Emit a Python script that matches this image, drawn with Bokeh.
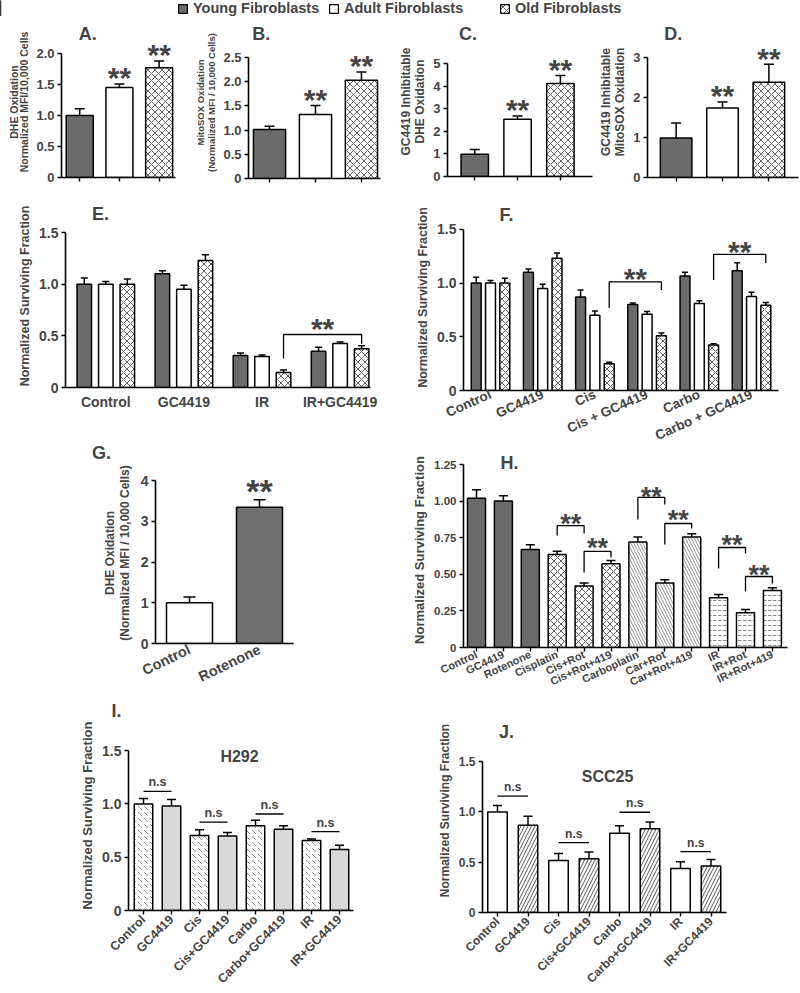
from bokeh.plotting import figure
from bokeh.models import (Range1d, FixedTicker, Label, Whisker, ColumnDataSource,
                          TeeHead, Legend, LegendItem, Spacer)
from bokeh.layouts import column, row
from bokeh.embed import file_html
from bokeh.resources import INLINE

FONT = "Liberation Sans"

# ---------------- data ----------------
legend_labels = ["Young Fibroblasts", "Adult Fibroblasts", "Old Fibroblasts"]
fib_keys = ["young", "adult", "old"]

a_vals = [1.00, 1.45, 1.77]
a_errs = [0.11, 0.06, 0.11]
b_vals = [1.01, 1.32, 2.03]
b_errs = [0.07, 0.19, 0.17]
c_vals = [0.98, 2.53, 4.11]
c_errs = [0.21, 0.15, 0.36]
d_vals = [0.99, 1.74, 2.38]
d_errs = [0.37, 0.15, 0.45]
abcd_sig = ["", "**", "**"]

e_cats = ["Control", "GC4419", "IR", "IR+GC4419"]
e_young = [1.00, 1.10, 0.31, 0.35]
e_young_err = [0.06, 0.03, 0.025, 0.04]
e_adult = [1.00, 0.95, 0.30, 0.425]
e_adult_err = [0.025, 0.04, 0.015, 0.015]
e_old = [1.00, 1.23, 0.145, 0.375]
e_old_err = [0.05, 0.055, 0.025, 0.03]

f_cats = ["Control", "GC4419", "Cis", "Cis + GC4419", "Carbo", "Carbo + GC4419"]
f_young = [1.00, 1.10, 0.87, 0.80, 1.065, 1.115]
f_young_err = [0.055, 0.03, 0.065, 0.015, 0.035, 0.075]
f_adult = [1.00, 0.95, 0.70, 0.71, 0.81, 0.875]
f_adult_err = [0.025, 0.04, 0.04, 0.025, 0.025, 0.04]
f_old = [1.00, 1.23, 0.25, 0.51, 0.423, 0.793]
f_old_err = [0.045, 0.05, 0.012, 0.025, 0.012, 0.027]

g_cats = ["Control", "Rotenone"]
g_vals = [1.00, 3.345]
g_errs = [0.14, 0.185]
g_sig = ["", "**"]

h_cats = ["Control", "GC4419", "Rotenone", "Cisplatin", "Cis+Rot", "Cis+Rot+419",
          "Carboplatin", "Car+Rot", "Car+Rot+419", "IR", "IR+Rot", "IR+Rot+419"]
h_vals = [1.02, 1.00, 0.67, 0.635, 0.42, 0.572, 0.72, 0.44, 0.754, 0.34, 0.237, 0.39]
h_errs = [0.057, 0.036, 0.031, 0.023, 0.021, 0.022, 0.034, 0.022, 0.023, 0.022, 0.023, 0.018]
h_kind = ["young", "young", "young", "cis", "cis", "cis",
          "carbo", "carbo", "carbo", "ir", "ir", "ir"]

ij_cats = ["Control", "GC4419", "Cis", "Cis+GC4419", "Carbo", "Carbo+GC4419", "IR", "IR+GC4419"]
i_vals = [1.00, 0.98, 0.705, 0.70, 0.795, 0.762, 0.656, 0.572]
i_errs = [0.052, 0.062, 0.052, 0.032, 0.052, 0.034, 0.016, 0.04]
i_kind = ["i_dot", "i_gray"] * 4
j_vals = [1.00, 0.868, 0.518, 0.534, 0.788, 0.833, 0.437, 0.462]
j_errs = [0.064, 0.09, 0.07, 0.067, 0.074, 0.067, 0.068, 0.066]
j_kind = ["adult", "j_hatch"] * 4

# significance brackets: (left bar, right bar, top, left end, right end, star centre)
e_brackets = [((2, 2), (3, 2), 0.513, 0.28, 0.423, 0.63)]
f_brackets = [((2, 2), (3, 2), 1.012, 0.769, 0.935, 1.10),
              ((4, 2), (5, 2), 1.268, 1.028, 1.188, 1.35)]
h_brackets = [(3, 4, 0.833, 0.765, 0.779, 0.88),
              (4, 5, 0.656, 0.512, 0.615, 0.717),
              (6, 7, 1.025, 0.874, 0.977, 1.07),
              (7, 8, 0.847, 0.704, 0.813, 0.908),
              (9, 10, 0.683, 0.54, 0.642, 0.738),
              (10, 11, 0.485, 0.383, 0.437, 0.533)]
i_ns = [(0, 1, 1.119), (2, 3, 0.829), (4, 5, 0.906), (6, 7, 0.741)]
j_ns = [(0, 1, 1.158), (2, 3, 0.695), (4, 5, 0.997), (6, 7, 0.605)]

# tick values / labels
t_a = [0, 0.5, 1.0, 1.5, 2.0]; tl_a = ["0", "0.5", "1.0", "1.5", "2.0"]
t_b = [0, 0.5, 1.0, 1.5, 2.0, 2.5]; tl_b = ["0", "0.5", "1.0", "1.5", "2.0", "2.5"]
t_c = [0, 1, 2, 3, 4, 5]; tl_c = ["0", "1", "2", "3", "4", "5"]
t_d = [0, 1, 2, 3]; tl_d = ["0", "1", "2", "3"]
t_s = [0, 0.5, 1.0, 1.5]; tl_s = ["0", "0.5", "1.0", "1.5"]
t_g = [0, 1, 2, 3, 4]; tl_g = ["0", "1", "2", "3", "4"]
t_h = [0, 0.25, 0.5, 0.75, 1.0, 1.25]; tl_h = ["0", "0.25", "0.50", "0.75", "1.00", "1.25"]

# ---------------- styles ----------------
STY = {
    "young": dict(fill_color="#6b6b6b"),
    "adult": dict(fill_color="white"),
    "old": dict(fill_color="white", hatch_pattern="diagonal_cross", hatch_color="#3c3c3c",
                hatch_scale=7, hatch_weight=0.8),
    "cis": dict(fill_color="white", hatch_pattern="diagonal_cross", hatch_color="#3c3c3c",
                hatch_scale=7, hatch_weight=0.8),
    "carbo": dict(fill_color="white", hatch_pattern="left_diagonal_line", hatch_color="#9a9a9a",
                  hatch_scale=6, hatch_weight=1),
    "ir": dict(fill_color="white", hatch_pattern="horizontal_dash", hatch_color="#8a8a8a",
               hatch_scale=5, hatch_weight=1),
    "i_dot": dict(fill_color="white", hatch_pattern="left_diagonal_dash", hatch_color="#8c8c8c",
                  hatch_scale=6, hatch_weight=1),
    "i_gray": dict(fill_color="#d9d9d9"),
    "j_hatch": dict(fill_color="white", hatch_pattern="right_diagonal_line", hatch_color="#444444",
                    hatch_scale=7, hatch_weight=0.9),
}


class Panel:
    """A figure whose frame is placed at given pixel positions (local to its slot)."""
    def __init__(self, W, H, fl, fr, ft, fb, x0, dx, tick_px, tick_val, s=0, wrap="row"):
        self.ppu = (fb - tick_px) / tick_val
        self.x0, self.dx, self.fb = x0, dx, fb
        p = figure(width=W - s, height=H, output_backend="svg", toolbar_location=None,
                   x_range=Range1d((fl - x0) / dx, (fr - x0) / dx),
                   y_range=Range1d(0, (fb - ft) / self.ppu),
                   min_border_left=fl - s, min_border_right=W - fr,
                   min_border_top=ft, min_border_bottom=H - fb,
                   title_location=None)
        p.outline_line_color = None
        p.grid.visible = False
        self.p = p
        kids = ([Spacer(width=s, height=H)] if s else []) + [p]
        self.box = row(*kids) if wrap == "row" else column(*kids)

    def cv(self, lx, ly):
        return ((lx - self.x0) / self.dx, (self.fb - ly) / self.ppu)


def tag(W, H, text, cx, cy, fs=18):
    """A small strip holding a panel letter that sits outside the neighbouring plot frame."""
    t = figure(width=W, height=H, x_range=Range1d(0, W), y_range=Range1d(0, H),
               output_backend="svg", toolbar_location=None, x_axis_type=None, y_axis_type=None,
               min_border=0, title_location=None)
    t.grid.visible = False
    t.outline_line_color = None
    t.add_layout(Label(x=cx, y=H - cy, text=text, text_font=FONT, text_font_style="bold",
                       text_font_size=f"{fs}px", text_align="center", text_baseline="middle"))
    return row(t)


def y_axis(p, ticks, labels, title, tick_fs, title_fs, lh=1.0, standoff=4):
    ax = p.yaxis[0]
    ax.ticker = FixedTicker(ticks=ticks)
    ax.major_label_overrides = dict(zip(ticks, labels))
    ax.bounds = (ticks[0], ticks[-1])
    ax.axis_line_width = 1.6
    ax.major_tick_line_width = 1.6
    ax.major_tick_in = 0
    ax.major_tick_out = 4
    ax.minor_tick_line_color = None
    ax.major_label_standoff = 3
    ax.major_label_text_font = FONT
    ax.major_label_text_font_style = "bold"
    ax.major_label_text_font_size = f"{tick_fs}px"
    ax.axis_label = title
    ax.axis_label_text_font = FONT
    ax.axis_label_text_font_style = "bold"
    ax.axis_label_text_font_size = f"{title_fs}px"
    ax.axis_label_text_line_height = lh
    ax.axis_label_standoff = standoff


def x_axis(p, ticks, labels, fs, angle=None, tick_out=0, standoff=4):
    ax = p.xaxis[0]
    ax.ticker = FixedTicker(ticks=ticks)
    ax.major_label_overrides = dict(zip(ticks, labels))
    ax.axis_line_width = 1.6
    ax.major_tick_line_width = 1.4
    ax.major_tick_in = 0
    ax.major_tick_out = tick_out
    ax.minor_tick_line_color = None
    ax.major_label_standoff = standoff
    ax.major_label_text_font = FONT
    ax.major_label_text_font_style = "bold"
    ax.major_label_text_font_size = f"{fs}px"
    ax.major_label_orientation = "horizontal" if angle is None else angle


def bars(p, xs, tops, errs, width, style, cap=8):
    p.vbar(x=xs, top=tops, width=width, line_color="black", line_width=1.5, **style)
    src = ColumnDataSource(dict(base=xs, lower=tops,
                                upper=[t + e for t, e in zip(tops, errs)]))
    p.add_layout(Whisker(source=src, base="base", lower="lower", upper="upper",
                         dimension="height", line_width=1.5, line_color="black",
                         lower_head=None,
                         upper_head=TeeHead(size=cap, line_width=1.5, line_color="black")))


def label(p, x, y, text, fs, align="center", baseline="middle"):
    p.add_layout(Label(x=x, y=y, text=text, text_font=FONT, text_font_style="bold",
                       text_font_size=f"{fs}px", text_align=align, text_baseline=baseline))


def stars(P, x, y_centre, fs):
    # asterisks sit ~0.21 em above the text middle
    label(P.p, x, y_centre - 0.21 * fs / P.ppu, "**", fs)


def stars_above(P, x, y, fs, px):
    stars(P, x, y + px / P.ppu, fs)


def bracket(P, xl, xr, top, yl, yr, sy, fs):
    P.p.line(x=[xl, xl, xr, xr], y=[yl, top, top, yr], line_color="black", line_width=1.3)
    stars(P, (xl + xr) / 2, sy, fs)


def ns_line(P, l, r_, y, fs):
    P.p.line(x=[l, r_], y=[y, y], line_color="black", line_width=1.3)
    label(P.p, (l + r_) / 2, y + 2.0 / P.ppu, "n.s", fs, baseline="bottom")


# ---------------- legend strip ----------------
lg = figure(width=800, height=16, x_range=Range1d(0, 1), y_range=Range1d(0, 1),
            output_backend="svg", toolbar_location=None, x_axis_type=None, y_axis_type=None,
            min_border=0, title_location=None)
lg.grid.visible = False
lg.outline_line_color = None
for lab, key, lx in zip(legend_labels, fib_keys, [177, 328, 499]):
    r = lg.vbar(x=[-5], top=[1], width=0.1, line_color="black", line_width=1.2, **STY[key])
    lg.add_layout(Legend(items=[LegendItem(label=lab, renderers=[r])], location=(lx, 0),
                         glyph_width=11, glyph_height=11, label_standoff=5, padding=0, margin=0,
                         border_line_color=None, background_fill_alpha=0,
                         label_text_font=FONT, label_text_font_style="bold",
                         label_text_font_size="14.5px", label_height=12))

# ---------------- A-D ----------------
STAR = 30


def small_panel(W, fl, fr, fb, x0, dx, tick_px, tick_val, vals, errs, bw, ticks, tlabels,
                ytitle, title_fs, lh, title, tpos):
    P = Panel(W, 180, fl, fr, 2, fb, x0, dx, tick_px, tick_val, wrap="column")
    for i, (v, e, k) in enumerate(zip(vals, errs, fib_keys)):
        bars(P.p, [i], [v], [e], bw, STY[k], cap=10)
        if abcd_sig[i]:
            stars_above(P, i, v + e, STAR, 12.5)
    y_axis(P.p, ticks, tlabels, ytitle, 13, title_fs, lh=lh, standoff=3)
    x_axis(P.p, [0, 1, 2], ["", "", ""], 1, tick_out=4)
    label(P.p, *P.cv(*tpos), title, 18)
    return P

PA = small_panel(188, 49, 171, 153, 68.5, 42.5, 29, 2.0, a_vals, a_errs, 0.68, t_a, tl_a,
                 "DHE Oxidation\nNormalized MFI/10,000 Cells", 10.5, 0.9, "A.", (77, 9))
PB = small_panel(204, 53, 188, 154, 74.5, 47, 33, 2.5, b_vals, b_errs, 0.70, t_b, tl_b,
                 "MitoSOX Oxidation\n(Normalized MFI / 10,000 Cells)", 9.5, 1.0, "B.", (66, 9))
PC = small_panel(200, 47, 196, 152, 75, 44, 39, 5, c_vals, c_errs, 0.64, t_c, tl_c,
                 "GC4419 Inhibitable\nDHE Oxidation", 12, 1.0, "C.", (68, 9))
PD = small_panel(204, 49, 202, 153, 78, 47, 33, 3, d_vals, d_errs, 0.68, t_d, tl_d,
                 "GC4419 Inhibitable\nMitoSOX Oxidation", 12, 1.0, "D.", (75, 9))

# ---------------- E ----------------
e_off, e_w = 0.2756, 0.186
PE = Panel(396, 228, 61, 366, 0, 183, 101.3, 78.1, 28, 1.5)
for m, (vals, errs) in enumerate([(e_young, e_young_err), (e_adult, e_adult_err), (e_old, e_old_err)]):
    xs = [g + (m - 1) * e_off for g in range(len(e_cats))]
    bars(PE.p, xs, vals, errs, e_w, STY[fib_keys[m]], cap=7)
for (gl, ml), (gr, mr), top, yl, yr, sy in e_brackets:
    bracket(PE, gl + (ml - 1) * e_off, gr + (mr - 1) * e_off, top, yl, yr, sy, STAR)
y_axis(PE.p, t_s, tl_s, "Normalized Surviving Fraction", 14, 12.5)
x_axis(PE.p, list(range(len(e_cats))), e_cats, 14, standoff=6)
label(PE.p, *PE.cv(96, 9), "E.", 18)

# ---------------- F ----------------
f_off, f_w = 0.274, 0.19
PF = Panel(388, 248, 63, 378, 0, 187, 90, 52.2, 25, 1.5)
for m, (vals, errs) in enumerate([(f_young, f_young_err), (f_adult, f_adult_err), (f_old, f_old_err)]):
    xs = [g + (m - 1) * f_off for g in range(len(f_cats))]
    bars(PF.p, xs, vals, errs, f_w, STY[fib_keys[m]], cap=6)
for (gl, ml), (gr, mr), top, yl, yr, sy in f_brackets:
    bracket(PF, gl + (ml - 1) * f_off, gr + (mr - 1) * f_off, top, yl, yr, sy, STAR)
y_axis(PF.p, t_s, tl_s, "Normalized Surviving Fraction", 14, 12.5)
x_axis(PF.p, list(range(len(f_cats))), f_cats, 13.5, angle=0.42, standoff=3)
label(PF.p, *PF.cv(106, 11), "F.", 18)

# ---------------- G ----------------
tagG = tag(200, 30, "G.", 97, 20)
PG = Panel(394, 234, 151, 289, 0, 181, 185, 70, 18, 4, s=12)
bars(PG.p, [0], [g_vals[0]], [g_errs[0]], 0.657, STY["adult"], cap=12)
bars(PG.p, [1], [g_vals[1]], [g_errs[1]], 0.657, dict(fill_color="#707070"), cap=12)
for i, s in enumerate(g_sig):
    if s:
        stars_above(PG, i, g_vals[i] + g_errs[i], 34, 16)
y_axis(PG.p, t_g, tl_g, "DHE Oxidation\n(Normalized MFI / 10,000 Cells)", 14, 12, lh=1.05, standoff=6)
x_axis(PG.p, [0, 1], g_cats, 14.5, angle=0.45, standoff=5)

# ---------------- H ----------------
PH = Panel(388, 256, 63, 387, 0, 195, 76, 26.9, 12, 1.25, s=3)
for kind in ["young", "cis", "carbo", "ir"]:
    idx = [i for i, k in enumerate(h_kind) if k == kind]
    bars(PH.p, idx, [h_vals[i] for i in idx], [h_errs[i] for i in idx], 0.67, STY[kind], cap=9)
for l, r_, top, yl, yr, sy in h_brackets:
    bracket(PH, l, r_, top, yl, yr, sy, 27)
y_axis(PH.p, t_h, tl_h, "Normalized Surviving Fraction", 11.5, 13)
x_axis(PH.p, list(range(len(h_cats))), h_cats, 11, angle=0.44, tick_out=4, standoff=2)
label(PH.p, *PH.cv(109, 10), "H.", 18)

# ---------------- I ----------------
tagI = tag(200, 24, "I.", 112, 14)
PI = Panel(392, 273, 124, 349, 0, 195, 139, 28, 31, 1.5, s=24)
for kind in ["i_dot", "i_gray"]:
    idx = [i for i, k in enumerate(i_kind) if k == kind]
    bars(PI.p, idx, [i_vals[i] for i in idx], [i_errs[i] for i in idx], 0.66, STY[kind], cap=9)
for l, r_, y in i_ns:
    ns_line(PI, l, r_, y, 12.5)
y_axis(PI.p, t_s, tl_s, "Normalized Surviving Fraction", 14, 13)
x_axis(PI.p, list(range(len(ij_cats))), ij_cats, 12.5, angle=0.785, tick_out=4, standoff=3)
label(PI.p, *PI.cv(235, 37), "H292", 16)

# ---------------- J ----------------
PJ = Panel(384, 285, 82, 326, 0, 211, 97, 30.5, 55, 1.5, s=16)
for kind in ["adult", "j_hatch"]:
    idx = [i for i, k in enumerate(j_kind) if k == kind]
    bars(PJ.p, idx, [j_vals[i] for i in idx], [j_errs[i] for i in idx], 0.64, STY[kind], cap=9)
for l, r_, y in j_ns:
    ns_line(PJ, l, r_, y, 12)
y_axis(PJ.p, t_s, tl_s, "Normalized Surviving Fraction", 12, 12)
x_axis(PJ.p, list(range(len(ij_cats))), ij_cats, 12, angle=0.785, tick_out=4, standoff=3)
label(PJ.p, *PJ.cv(106, 24), "J.", 18)
label(PJ.p, *PJ.cv(207, 70), "SCC25", 16)

body = column(Spacer(width=10, height=8),
              row(PA.box, PB.box, PC.box, PD.box),
              row(column(PE.box, column(tagG, PG.box), column(tagI, PI.box)),
                  column(PF.box, PH.box, PJ.box)))
layout = column(lg, row(Spacer(width=4, height=10), body))

open("out.html", "w").write(file_html(layout, INLINE, "Figure"))
